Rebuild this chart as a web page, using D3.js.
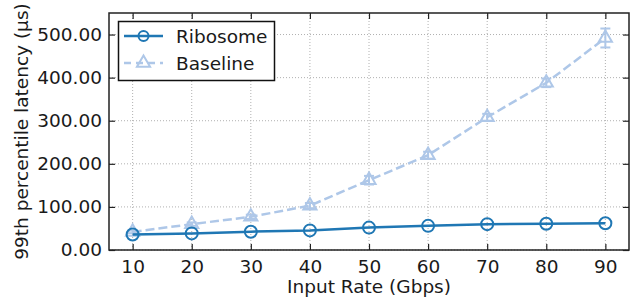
<!DOCTYPE html>
<html>
<head>
<meta charset="utf-8" />
<script src="https://cdn.jsdelivr.net/npm/d3@7"></script>
<style>
    body { margin: 0; background: #fff; }
    text { font-family: "DejaVu Sans", sans-serif; fill: #1a1a1a; }
</style>
</head>
<body>
<script>
    var rates = [10, 20, 30, 40, 50, 60, 70, 80, 90];
    var ribosome = [36, 38.5, 42.5, 45.5, 52, 56, 60, 61, 62];
    var baseline = [42, 60, 77, 103, 162, 220, 308, 388, 492];
    var baselineErr = [3, 4, 5, 6, 10, 8, 8, 10, 22];
    var yTicks = [0, 100, 200, 300, 400, 500];

    var width = 641, height = 300;
    var margin = { left: 109, right: 12, top: 13, bottom: 50 };
    var fs = 18.5;

    var svg = d3.select("body").append("svg")
        .attr("width", width)
        .attr("height", height);

    var x = d3.scaleLinear().domain([6, 94]).range([margin.left, width - margin.right]);
    var y = d3.scaleLinear().domain([0, 550]).range([height - margin.bottom, margin.top]);

    var x0 = margin.left, x1 = width - margin.right,
        y0 = height - margin.bottom, y1 = margin.top;

    // grid
    var grid = svg.append("g").attr("stroke", "#b0b0b0").attr("stroke-width", 1).attr("stroke-dasharray", "1,2");
    grid.selectAll(".gx").data(rates).enter().append("line")
        .attr("x1", function (d) { return x(d); }).attr("x2", function (d) { return x(d); })
        .attr("y1", y0).attr("y2", y1);
    grid.selectAll(".gy").data(yTicks).enter().append("line")
        .attr("x1", x0).attr("x2", x1)
        .attr("y1", function (d) { return y(d); }).attr("y2", function (d) { return y(d); });

    // axes with inward ticks on all sides
    var fmt = d3.format(".2f");
    svg.append("g").attr("transform", "translate(0," + y0 + ")")
        .call(d3.axisBottom(x).tickValues(rates).tickSizeInner(-6).tickSizeOuter(0).tickPadding(9))
        .call(function (g) { g.select(".domain").remove(); g.selectAll("text").attr("font-size", fs).attr("dy", "0.75em"); });
    svg.append("g").attr("transform", "translate(0," + y1 + ")")
        .call(d3.axisTop(x).tickValues(rates).tickSizeInner(-6).tickSizeOuter(0).tickFormat(""))
        .call(function (g) { g.select(".domain").remove(); });
    svg.append("g").attr("transform", "translate(" + x0 + ",0)")
        .call(d3.axisLeft(y).tickValues(yTicks).tickFormat(fmt).tickSizeInner(-6).tickSizeOuter(0).tickPadding(7))
        .call(function (g) { g.select(".domain").remove(); g.selectAll("text").attr("font-size", fs); });
    svg.append("g").attr("transform", "translate(" + x1 + ",0)")
        .call(d3.axisRight(y).tickValues(yTicks).tickSizeInner(-6).tickSizeOuter(0).tickFormat(""))
        .call(function (g) { g.select(".domain").remove(); });
    svg.selectAll(".tick line").attr("stroke", "#222").attr("stroke-width", 1.2);

    svg.append("rect").attr("x", x0).attr("y", y1)
        .attr("width", x1 - x0).attr("height", y0 - y1)
        .attr("fill", "none").attr("stroke", "#222").attr("stroke-width", 1.5);

    var line = d3.line()
        .x(function (d, i) { return x(rates[i]); })
        .y(function (d) { return y(d); });

    var blue = "#1f77b4", light = "#aec7e8";

    // baseline
    svg.append("path").datum(baseline).attr("d", line)
        .attr("fill", "none").attr("stroke", light).attr("stroke-width", 2.5).attr("stroke-dasharray", "9,4");
    var eb = svg.append("g").attr("stroke", light).attr("stroke-width", 2);
    baseline.forEach(function (v, i) {
        var cx = x(rates[i]), lo = y(v - baselineErr[i]), hi = y(v + baselineErr[i]);
        eb.append("line").attr("x1", cx).attr("x2", cx).attr("y1", lo).attr("y2", hi);
        eb.append("line").attr("x1", cx - 5).attr("x2", cx + 5).attr("y1", lo).attr("y2", lo);
        eb.append("line").attr("x1", cx - 5).attr("x2", cx + 5).attr("y1", hi).attr("y2", hi);
    });
    var tri = d3.symbol().type(d3.symbolTriangle).size(75);
    svg.selectAll(".tri").data(baseline).enter().append("path")
        .attr("d", tri)
        .attr("transform", function (d, i) { return "translate(" + x(rates[i]) + "," + y(d) + ")"; })
        .attr("fill", "none").attr("stroke", light).attr("stroke-width", 2);

    // ribosome
    svg.append("path").datum(ribosome).attr("d", line)
        .attr("fill", "none").attr("stroke", blue).attr("stroke-width", 2.5);
    svg.selectAll(".circ").data(ribosome).enter().append("circle")
        .attr("cx", function (d, i) { return x(rates[i]); })
        .attr("cy", function (d) { return y(d); })
        .attr("r", 6)
        .attr("fill", "none").attr("stroke", blue).attr("stroke-width", 2);

    // legend
    var lg = svg.append("g");
    lg.append("rect").attr("x", 118.5).attr("y", 21.5).attr("width", 156).attr("height", 59)
        .attr("fill", "#fff").attr("stroke", "#111").attr("stroke-width", 1.5);
    lg.append("line").attr("x1", 124).attr("x2", 163).attr("y1", 36).attr("y2", 36)
        .attr("stroke", blue).attr("stroke-width", 2.5);
    lg.append("circle").attr("cx", 143.5).attr("cy", 36).attr("r", 5)
        .attr("fill", "none").attr("stroke", blue).attr("stroke-width", 2);
    lg.append("line").attr("x1", 124).attr("x2", 163).attr("y1", 63).attr("y2", 63)
        .attr("stroke", light).attr("stroke-width", 2.5).attr("stroke-dasharray", "7,5");
    lg.append("path").attr("d", tri).attr("transform", "translate(143.5,63)")
        .attr("fill", "none").attr("stroke", light).attr("stroke-width", 2);
    lg.append("text").attr("x", 176).attr("y", 42.5).attr("font-size", fs).text("Ribosome");
    lg.append("text").attr("x", 176).attr("y", 69.5).attr("font-size", fs).text("Baseline");

    // axis titles
    svg.append("text").attr("x", (x0 + x1) / 2).attr("y", 293).attr("text-anchor", "middle")
        .attr("font-size", fs).text("Input Rate (Gbps)");
    svg.append("text").attr("transform", "translate(28," + ((y0 + y1) / 2) + ") rotate(-90)")
        .attr("text-anchor", "middle").attr("font-size", fs).text("99th percentile latency (μs)");
</script>
</body>
</html>
